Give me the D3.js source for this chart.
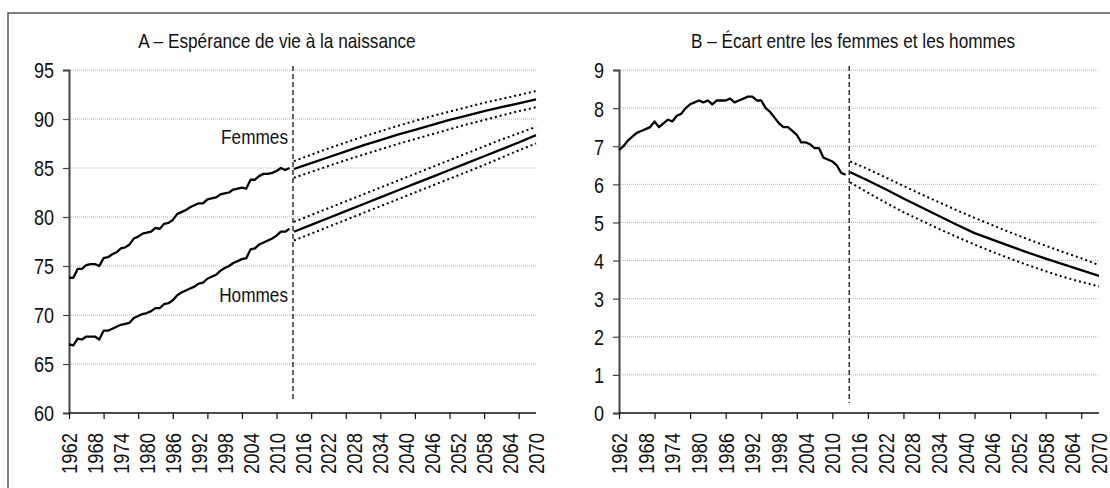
<!DOCTYPE html>
<html>
<head>
<meta charset="utf-8">
<script src="https://cdn.jsdelivr.net/npm/d3@7"></script>
<style>
  body { margin: 0; background: #fff; }
  svg text { font-family: "Liberation Sans", Arial, sans-serif; fill: #111; }
</style>
</head>
<body>
<div id="chart"></div>
<script>
// Observed series, 1962-2013
const obsYears = d3.range(1962, 2014);
const femmesObs = [73.8, 73.8, 74.7, 74.7, 75.1, 75.2, 75.2, 75.0, 75.8, 75.9,
  76.2, 76.4, 76.8, 76.9, 77.2, 77.8, 78.0, 78.3, 78.4, 78.5,
  78.9, 78.8, 79.3, 79.4, 79.7, 80.3, 80.5, 80.7, 81.0, 81.2,
  81.4, 81.4, 81.8, 81.9, 82.0, 82.3, 82.4, 82.5, 82.8, 82.9,
  83.0, 82.9, 83.8, 83.8, 84.2, 84.4, 84.4, 84.5, 84.7, 85.0,
  84.8, 85.0];
const hommesObs = [67.0, 66.9, 67.6, 67.5, 67.8, 67.8, 67.8, 67.5, 68.4, 68.4,
  68.6, 68.8, 69.0, 69.1, 69.2, 69.7, 69.9, 70.1, 70.2, 70.4,
  70.7, 70.7, 71.1, 71.2, 71.5, 72.0, 72.3, 72.5, 72.7, 72.9,
  73.2, 73.3, 73.7, 73.9, 74.1, 74.5, 74.8, 75.0, 75.3, 75.5,
  75.7, 75.8, 76.7, 76.8, 77.2, 77.4, 77.6, 77.8, 78.1, 78.5,
  78.5, 78.8];
const ecartObs = [6.9, 7.0, 7.15, 7.25, 7.35, 7.4, 7.45, 7.5, 7.65, 7.5,
  7.6, 7.7, 7.65, 7.8, 7.85, 8.0, 8.1, 8.15, 8.2, 8.15,
  8.2, 8.1, 8.2, 8.2, 8.2, 8.25, 8.15, 8.2, 8.25, 8.3,
  8.3, 8.2, 8.2, 8.0, 7.9, 7.75, 7.6, 7.5, 7.5, 7.4,
  7.3, 7.1, 7.1, 7.05, 6.95, 6.95, 6.7, 6.65, 6.6, 6.5,
  6.3, 6.25];

// Projections, 2014-2070 (every 4 years)
const projYears = d3.range(2014, 2071, 4);
const femmesProj = [84.9, 85.5, 86.1, 86.7, 87.3, 87.85, 88.4, 88.9, 89.4, 89.9, 90.35, 90.8, 91.2, 91.6, 92.0];
const femmesHaut = [85.7, 86.35, 87.0, 87.6, 88.2, 88.75, 89.3, 89.8, 90.3, 90.75, 91.2, 91.65, 92.05, 92.45, 92.85];
const femmesBas = [84.0, 84.6, 85.2, 85.8, 86.35, 86.9, 87.45, 87.95, 88.45, 88.95, 89.45, 89.9, 90.35, 90.8, 91.2];
const hommesProj = [78.5, 79.2, 79.9, 80.6, 81.3, 82.0, 82.7, 83.4, 84.1, 84.8, 85.5, 86.2, 86.9, 87.6, 88.35];
const hommesHaut = [79.5, 80.2, 80.9, 81.6, 82.3, 83.0, 83.7, 84.4, 85.1, 85.8, 86.5, 87.2, 87.9, 88.55, 89.2];
const hommesBas = [77.6, 78.3, 79.0, 79.7, 80.4, 81.1, 81.8, 82.5, 83.2, 83.9, 84.6, 85.3, 86.05, 86.8, 87.5];
const ecartProj = [6.32, 6.1, 5.87, 5.63, 5.4, 5.17, 4.94, 4.72, 4.55, 4.38, 4.21, 4.05, 3.9, 3.75, 3.6];
const ecartHaut = [6.6, 6.4, 6.18, 5.96, 5.74, 5.53, 5.32, 5.12, 4.93, 4.74, 4.56, 4.39, 4.22, 4.06, 3.88];
const ecartBas = [6.05, 5.78, 5.52, 5.27, 5.05, 4.83, 4.62, 4.42, 4.23, 4.05, 3.88, 3.72, 3.57, 3.44, 3.32];

// Axis labels / ticks
const labelYears = d3.range(1962, 2071, 6);
const tickYears = d3.range(1962, 2071, 8);
const ruptureYear = 2013.8;

const W = 1110, H = 488;
const NARROW = 0.82; // squeeze Liberation Sans to look like Arial Narrow
const svg = d3.select("#chart").append("svg")
  .attr("width", W).attr("height", H);

// outer frame
svg.append("rect")
  .attr("x", 8).attr("y", 13)
  .attr("width", W + 20).attr("height", H + 20)
  .attr("fill", "none").attr("stroke", "#555").attr("stroke-width", 1.5);

function label(g, x, y, txt, anchor, size) {
  return g.append("text")
    .attr("transform", `translate(${x},${y}) scale(${NARROW},1)`)
    .attr("text-anchor", anchor)
    .style("font-size", size + "px")
    .text(txt);
}

function panel(opts) {
  const x = d3.scaleLinear().domain([1962, 2070]).range([opts.x0, opts.x1]);
  const y = d3.scaleLinear().domain(opts.yDomain).range([413, 70]);
  const g = svg.append("g");

  // gridlines
  g.selectAll(".grid").data(opts.yTicks.slice(1)).enter().append("line")
    .attr("x1", opts.x0).attr("x2", opts.x1)
    .attr("y1", d => y(d)).attr("y2", d => y(d))
    .attr("stroke", "#b5b5b5").attr("stroke-width", 1)
    .attr("stroke-dasharray", "1,1");

  // y axis
  const ya = g.append("g").attr("transform", `translate(${opts.x0},0)`)
    .call(d3.axisLeft(y).tickValues(opts.yTicks).tickSize(6));
  ya.select(".domain").attr("stroke", "#444").attr("stroke-width", 2);
  ya.selectAll(".tick line").attr("stroke", "#444").attr("stroke-width", 1.2);
  ya.selectAll("text")
    .attr("x", -15 / NARROW).attr("dy", "0.36em")
    .attr("transform", `scale(${NARROW},1)`)
    .style("font-size", "22px").attr("fill", "#111");

  // x axis
  const xa = g.append("g").attr("transform", `translate(0,413)`)
    .call(d3.axisBottom(x).tickValues(tickYears).tickSize(6).tickFormat(""));
  xa.select(".domain").attr("stroke", "#111").attr("stroke-width", 1.5)
    .attr("d", `M${opts.x0},0H${opts.x1}`);
  xa.selectAll(".tick line").attr("stroke", "#111").attr("stroke-width", 1.2);

  g.selectAll(".xl").data(labelYears).enter().append("text")
    .attr("transform", d => `translate(${x(d) + 8},433) rotate(-90) scale(${NARROW},1)`)
    .attr("text-anchor", "end")
    .style("font-size", "22.5px")
    .text(d => d);

  // dashed rupture line
  g.append("line")
    .attr("x1", x(ruptureYear)).attr("x2", x(ruptureYear))
    .attr("y1", 66).attr("y2", opts.dashBottom)
    .attr("stroke", "#111").attr("stroke-width", 1.3)
    .attr("stroke-dasharray", "5,3");

  // title
  label(g, opts.titleX, 48, opts.title, "middle", 21);

  const line = d3.line().x(d => x(d[0])).y(d => y(d[1]));
  const zip = (xs, vs) => xs.map((v, i) => [v, vs[i]]);

  opts.solid.forEach(s => {
    g.append("path").datum(zip(s[0], s[1]))
      .attr("d", line).attr("fill", "none")
      .attr("stroke", "#000").attr("stroke-width", 2.3)
      .attr("stroke-linejoin", "round");
  });
  opts.dotted.forEach(s => {
    g.append("path").datum(zip(s[0], s[1]))
      .attr("d", line).attr("fill", "none")
      .attr("stroke", "#000").attr("stroke-width", 2)
      .attr("stroke-dasharray", "2,3");
  });
  return { x, y, g };
}

const pA = panel({
  x0: 69, x1: 536, yDomain: [60, 95], yTicks: d3.range(60, 96, 5),
  title: "A – Espérance de vie à la naissance", titleX: 277, dashBottom: 400,
  solid: [[obsYears, femmesObs], [obsYears, hommesObs], [projYears, femmesProj], [projYears, hommesProj]],
  dotted: [[projYears, femmesHaut], [projYears, femmesBas], [projYears, hommesHaut], [projYears, hommesBas]]
});
label(pA.g, pA.x(ruptureYear) - 5, 144, "Femmes", "end", 21);
label(pA.g, pA.x(ruptureYear) - 5, 302, "Hommes", "end", 21);

panel({
  x0: 619, x1: 1099, yDomain: [0, 9], yTicks: d3.range(0, 10, 1),
  title: "B – Écart entre les femmes et les hommes", titleX: 853, dashBottom: 403,
  solid: [[obsYears, ecartObs], [projYears, ecartProj]],
  dotted: [[projYears, ecartHaut], [projYears, ecartBas]]
});
</script>
</body>
</html>
